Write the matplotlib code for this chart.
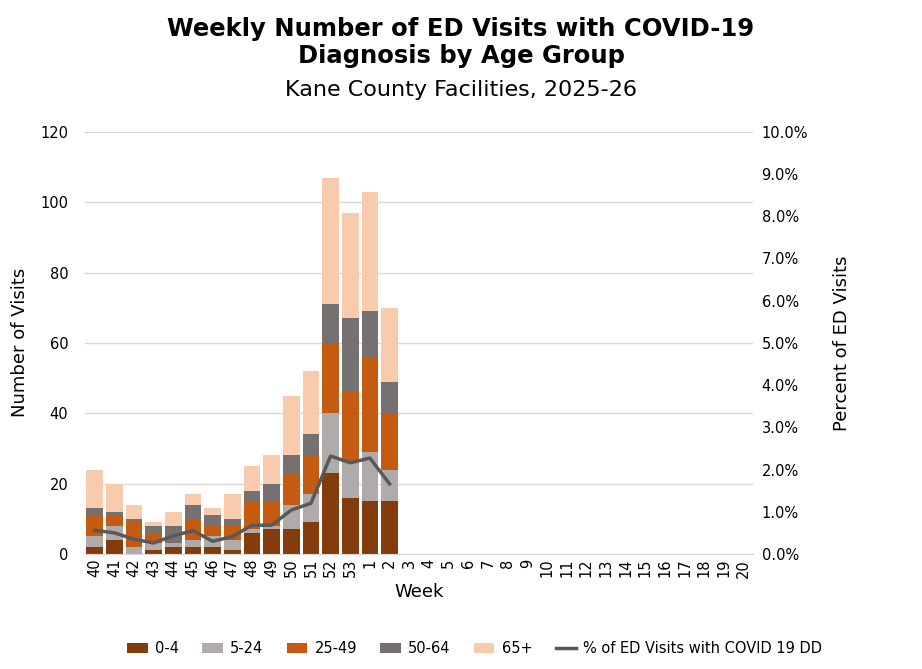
import matplotlib.pyplot as plt
import numpy as np

weeks = [str(w) for w in range(40, 54)] + [str(w) for w in range(1, 21)]
age_0_4 = [2, 4, 0, 1, 2, 2, 2, 1, 6, 7, 7, 9, 23, 16, 15, 15]
age_5_24 = [3, 4, 2, 2, 1, 2, 3, 3, 1, 1, 7, 8, 17, 10, 14, 9]
age_25_49 = [6, 3, 7, 3, 0, 6, 3, 4, 8, 7, 9, 11, 20, 20, 27, 16]
age_50_64 = [2, 1, 1, 2, 5, 4, 3, 2, 3, 5, 5, 6, 11, 21, 13, 9]
age_65 = [11, 8, 4, 1, 4, 3, 2, 7, 7, 8, 17, 18, 36, 30, 34, 21]
pct_covid = [0.56, 0.50, 0.35, 0.26, 0.43, 0.55, 0.30, 0.41, 0.68, 0.68, 1.04, 1.20, 2.32, 2.16, 2.27, 1.66]

series = [("0-4", age_0_4, "#843C0C"), ("5-24", age_5_24, "#AFABAB"),
          ("25-49", age_25_49, "#C55A11"), ("50-64", age_50_64, "#767171"),
          ("65+", age_65, "#F8CBAD")]

plt.rcParams['font.family'] = ['DejaVu Sans']
fig = plt.figure(figsize=(9.22, 6.69), dpi=100)
ax = fig.add_axes([0.092, 0.172, 0.725, 0.631])
x = np.arange(len(weeks))
n = len(age_0_4)
bottom = np.zeros(n)
handles = []
for name, vals, col in series:
    h = ax.bar(x[:n], vals, 0.85, bottom=bottom, color=col, label=name, zorder=2)
    bottom += np.array(vals)
    handles.append(h)

ax.set_ylim(0, 120)
ax.set_yticks(range(0, 121, 20))
ax.set_xlim(-0.5, len(weeks) - 0.5)
ax.set_xticks(x)
ax.set_xticklabels(weeks, rotation=90, fontsize=10.5)
ax.tick_params(axis='y', labelsize=10.5, length=0, pad=12)
ax.tick_params(axis='x', length=0)
ax.grid(axis='y', color='#d9d9d9', lw=1, zorder=0)
for s in ax.spines.values():
    s.set_visible(False)
ax.spines['bottom'].set_visible(True)
ax.spines['bottom'].set_color('#d9d9d9')
ax.set_ylabel("Number of Visits", fontsize=13, labelpad=8)
ax.set_xlabel("Week", fontsize=13)

ax2 = ax.twinx()
line, = ax2.plot(x[:n], pct_covid, color="#595959", lw=2.5, zorder=3,
                 label="% of ED Visits with COVID 19 DD")
ax2.set_ylim(0, 10)
ax2.set_yticks(np.arange(0, 10.1, 1))
ax2.set_yticklabels([f"{v:.1f}%" for v in np.arange(0, 10.1, 1)], fontsize=10.5)
ax2.tick_params(length=0, pad=6)
for s in ax2.spines.values():
    s.set_visible(False)
ax2.set_ylabel("Percent of ED Visits", fontsize=13, labelpad=18)

fig.text(0.5, 0.975, "Weekly Number of ED Visits with COVID-19\nDiagnosis by Age Group",
         ha='center', va='top', fontsize=17.5, fontweight='bold', linespacing=1.15)
fig.text(0.5, 0.88, "Kane County Facilities, 2025-26", ha='center', va='top', fontsize=16)

fig.legend(handles + [line], [s[0] for s in series] + [line.get_label()],
           loc='lower center', bbox_to_anchor=(0.515, 0.0), ncol=6, frameon=False,
           fontsize=10.5, handlelength=1.4, handletextpad=0.5, columnspacing=1.6)
fig.savefig("out.png", dpi=100)
